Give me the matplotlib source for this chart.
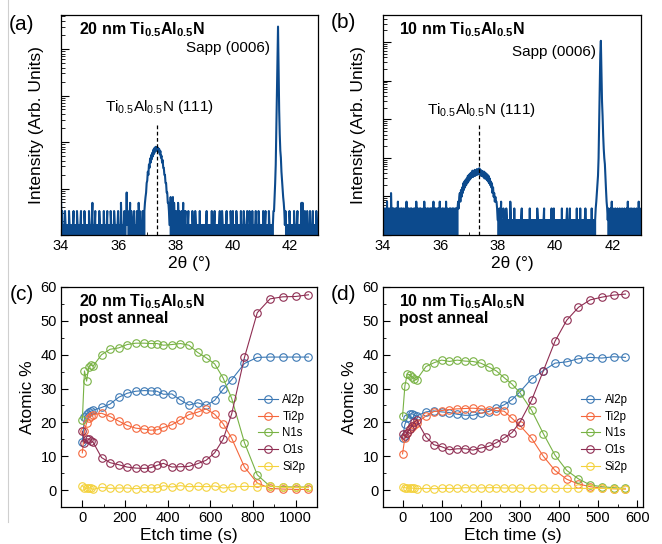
import numpy as np
import matplotlib
matplotlib.use('Agg')
import matplotlib.pyplot as plt
from matplotlib.ticker import FixedLocator, MultipleLocator, NullFormatter
from matplotlib.lines import Line2D

plt.rcParams['font.family'] = ['Liberation Sans', 'DejaVu Sans']
plt.rcParams['mathtext.fontset'] = 'custom'
plt.rcParams['mathtext.rm'] = 'Liberation Sans'
plt.rcParams['mathtext.it'] = 'Liberation Sans:italic'
plt.rcParams['mathtext.bf'] = 'Liberation Sans:bold'

# ---------------- XRD data (counts on a 0.02 deg grid) ----------------
STEP = 0.02
xrd_a_segments = [
    (34.00, "4120101210" "1010210110" "0120101021" "0101120101" "0210110102"
            "1010130101" "2010110210" "1011020101" "1201010211" "0102101101"
            "2101031010" "1201151210" "1302101120" "1012103121" "011210"),
    (36.92, [2, 3, 4, 5, 8, 9, 14, 12, 20, 17, 27, 22, 32, 26, 36, 30, 42, 34, 46, 38,
             48, 40, 47, 41, 46, 38, 43, 33, 39, 28, 31, 22, 25, 17, 17, 12, 12, 8, 8, 5,
             5, 3, 3, 2, 1]),
    (37.82, "1402140312" "0120312101" "2013021201" "0120101102" "1010210101"
            "1020101101" "0101201010" "1102010120" "1010101201" "0210101012"
            "0101102101" "2010102101" "0110201012" "1010120102" "1010201101"
            "2101021010" "1102101201" "0102101010"),
    (41.42, [1, 2, 2, 4, 8, 20, 120, 900, 6000, 18500, 2000, 300, 90, 40, 28, 14, 9, 6,
             4, 3, 2, 1, 2, 1, 0]),
    (41.92, "1010210101" "1021010120" "1010130310" "1201020101" "2010120101" "02101"),
]
xrd_b_segments = [
    (34.00, "2021020302" "1020510202" "0120203021" "0202102012" "0302020120"
            "2010202031" "0201202010" "2030201202" "0120202130" "2020120203"
            "0102020120" "3020102021" "0202012020"),
    (36.60, [2, 3, 2, 4, 5, 3, 6, 4, 7, 5, 9, 6, 10, 7, 11, 8, 12, 9, 14, 10,
             15, 11, 16, 12, 17, 13, 19, 13, 18, 14, 20, 14, 19, 15, 21, 15, 20, 16, 22, 15,
             20, 14, 19, 14, 18, 13, 18, 12, 17, 12, 16, 11, 15, 10, 14, 9, 12, 8, 10, 7,
             9, 5, 7, 4, 5, 3, 4, 3, 3, 2, 1]),
    (38.02, "1020130102" "1010210101" "0310101020" "1010101010" "1201010101"
            "0101020101" "1010101021" "0101010101" "2010101010" "1012010201"
            "0101010101" "0201010101" "2010120101" "0101010201" "0102010101"
            "0121010101" "0102010101"),
    (41.42, [2, 3, 5, 8, 14, 40, 300, 3000, 20000, 44000, 6000, 1200, 500, 160, 70, 40,
             28, 12, 6, 3, 2, 1, 2]),
    (41.88, "0102030201" "0201020102" "0102010201" "0203010201" "2010201020" "1030201"),
]
xrd_peak_2theta = 37.35

# ---------------- XPS depth profiles ----------------
c_time = [0, 10, 20, 30, 40, 50, 90, 130, 170, 210, 250, 290, 320, 350, 380, 420, 460,
          500, 540, 580, 620, 660, 700, 760, 820, 880, 940, 1000, 1060]
c_al2p = [14.3, 21.5, 22.5, 23.0, 23.3, 23.6, 24.4, 25.4, 27.4, 28.6, 29.2, 29.4, 29.3, 29.2,
          28.3, 28.4, 26.6, 25.1, 25.8, 25.0, 26.5, 29.8, 32.6, 37.4, 39.2, 39.3, 39.3, 39.3, 39.3]
c_ti2p = [11.0, 17.5, 19.8, 21.3, 22.0, 22.3, 22.7, 21.7, 20.4, 19.1, 18.3, 18.0, 17.7, 17.8,
          18.5, 19.3, 20.8, 22.3, 23.0, 24.0, 22.4, 19.6, 15.3, 6.8, 2.1, 0.5, 0.3, 0.2, 0.2]
c_n1s = [20.6, 35.2, 32.2, 36.4, 37.0, 36.6, 40.0, 41.6, 42.0, 43.0, 43.4, 43.4, 43.3, 43.3,
         42.8, 43.0, 43.3, 42.8, 40.7, 39.1, 37.3, 33.1, 27.1, 14.0, 4.5, 1.1, 1.0, 0.9, 0.9]
c_o1s = [17.4, 13.8, 15.2, 15.0, 14.6, 14.2, 9.6, 8.1, 7.5, 6.8, 6.5, 6.4, 6.6, 7.3,
         7.9, 6.8, 6.9, 7.0, 7.8, 8.8, 11.0, 15.0, 22.5, 39.2, 52.4, 56.5, 57.1, 57.2, 57.7]
c_si2p = [1.3, 0.6, 0.5, 0.7, 0.6, 0.2, 0.8, 0.5, 0.6, 0.6, 0.4, 0.7, 0.6, 0.6,
          1.3, 0.9, 1.3, 1.0, 1.1, 1.0, 1.2, 0.6, 0.9, 1.1, 1.0, 1.2, 0.8, 0.8, 0.8]

d_time = [0, 6, 12, 18, 24, 30, 36, 60, 80, 100, 120, 140, 160, 180, 200, 220, 240, 260,
          280, 300, 330, 360, 390, 420, 450, 480, 510, 540, 570]
d_al2p = [15.5, 19.4, 21.2, 22.4, 22.6, 22.1, 21.9, 23.1, 23.4, 23.1, 22.9, 22.4, 22.1, 22.1,
          22.7, 23.2, 24.2, 25.2, 26.7, 29.0, 32.9, 35.3, 37.5, 37.9, 38.8, 39.2, 39.0, 39.4, 39.2]
d_ti2p = [10.7, 15.5, 17.0, 18.0, 18.6, 19.2, 19.9, 21.9, 23.2, 23.5, 23.8, 24.0, 24.1, 24.2,
          24.0, 23.8, 23.5, 23.3, 21.2, 19.1, 15.3, 10.0, 5.8, 3.2, 1.8, 1.0, 0.6, 0.4, 0.3]
d_n1s = [21.8, 30.8, 34.3, 34.1, 33.5, 32.9, 32.6, 36.5, 37.6, 38.4, 38.0, 38.4, 38.1, 38.0,
         37.5, 36.4, 35.2, 33.2, 31.3, 28.8, 23.6, 16.7, 10.3, 5.8, 3.3, 1.5, 1.0, 0.7, 0.5]
d_o1s = [16.5, 16.0, 17.0, 18.0, 19.0, 20.0, 20.6, 15.7, 13.4, 12.8, 11.9, 12.2, 12.2, 11.8,
         12.4, 12.9, 14.0, 15.4, 17.0, 20.0, 26.5, 35.2, 44.0, 50.2, 54.0, 56.2, 57.0, 57.6, 57.9]
d_si2p = [0.9, 0.7, 0.6, 0.6, 0.6, 0.5, 0.4, 0.5, 0.4, 0.5, 0.5, 0.5, 0.7, 0.6,
          0.6, 0.7, 0.7, 0.6, 0.6, 0.6, 0.5, 0.6, 0.5, 0.5, 0.5, 0.5, 0.5, 0.4, 0.4]

series_names = ['Al2p', 'Ti2p', 'N1s', 'O1s', 'Si2p']
series_colors = ['#3b78b4', '#f5673c', '#78b244', '#8f2d52', '#f4d23c']


def build(segments):
    xs, ys = [], []
    for start, vals in segments:
        if isinstance(vals, str):
            vals = [int(c) for c in vals]
        xs.extend(start + STEP * np.arange(len(vals)))
        ys.extend(vals)
    return np.array(xs), np.array(ys, dtype=float)


W, H = 662, 544
fig = plt.figure(figsize=(W / 100, H / 100), dpi=100)


def rect(l, t, r, b):
    return [l / W, 1 - b / H, (r - l) / W, (b - t) / H]


ax_a = fig.add_axes(rect(61, 15, 318, 235))
ax_b = fig.add_axes(rect(383, 15, 641, 235))
ax_c = fig.add_axes(rect(61, 287, 317, 507))
ax_d = fig.add_axes(rect(383, 287, 643, 507))

fig.add_artist(Line2D([8 / W, 8 / W], [1 - 522 / H, 1], color='#cfcfcf', lw=0.8))

TFS = 10.5
LFS = 12.5
title_sub = r'nm Ti$_{\mathbf{0.5}}$Al$_{\mathbf{0.5}}$N'
ti_label = r'Ti$_{0.5}$Al$_{0.5}$N (111)'


def style_xrd(ax, segs, base, decade_px, thick, sapp_pos, ti_pos, title_x):
    x, y = build(segs)
    ax.plot(x, y, color='#0c4a8d', lw=1.5)
    ax.set_yscale('log')
    top = base * 10 ** (220 / decade_px)
    ax.set_ylim(base, top)
    ax.set_xlim(34, 43)
    ax.yaxis.set_major_locator(FixedLocator([base * 10 ** n for n in range(0, 7)]))
    ax.yaxis.set_minor_locator(FixedLocator([base * m * 10 ** n for n in range(-1, 7) for m in range(2, 10)]))
    ax.yaxis.set_major_formatter(NullFormatter())
    ax.yaxis.set_minor_formatter(NullFormatter())
    ax.xaxis.set_major_locator(MultipleLocator(2))
    ax.xaxis.set_minor_locator(MultipleLocator(1))
    ax.tick_params(which='both', direction='in', top=False, right=False, labelsize=TFS)
    ax.tick_params(axis='y', which='major', length=6, width=0.8)
    ax.tick_params(axis='y', which='minor', length=3, width=0.6)
    ax.tick_params(axis='x', which='major', length=4, width=0.8, pad=3)
    ax.tick_params(axis='x', which='minor', length=2.5, width=0.6)
    ax.set_xlabel('2θ (°)', fontsize=LFS, labelpad=2)
    ax.set_ylabel('Intensity (Arb. Units)', fontsize=LFS, labelpad=9)
    ax.axvline(xrd_peak_2theta, ymin=0, ymax=0.5, color='black', ls=(0, (3, 2)), lw=0.9)
    ax.text(title_x, 0.932, thick + ' ' + title_sub, transform=ax.transAxes, fontsize=11.5,
            fontweight='bold', va='center', ha='left')
    ax.text(sapp_pos[0], sapp_pos[1], 'Sapp (0006)', transform=ax.transAxes, fontsize=11,
            va='center', ha='right')
    ax.text(ti_pos[0], ti_pos[1], ti_label, transform=ax.transAxes, fontsize=11,
            va='center', ha='center')
    for s in ax.spines.values():
        s.set_linewidth(0.9)


style_xrd(ax_a, xrd_a_segments, 0.61, 46.5, '20', (0.813, 0.85), (0.385, 0.582), 0.07)
style_xrd(ax_b, xrd_b_segments, 0.41, 38.6, '10', (0.826, 0.832), (0.38, 0.568), 0.062)


def style_xps(ax, t, data, thick, xlim, xmaj, xmin, title_x, leg_x):
    for vals, name, col in zip(data, series_names, series_colors):
        ax.plot(t, vals, color=col, lw=0.8, marker='o', ms=5.4, mfc='none', mew=0.8,
                label=name)
    ax.set_xlim(*xlim)
    ax.set_ylim(-5, 60)
    ax.xaxis.set_major_locator(MultipleLocator(xmaj))
    ax.xaxis.set_minor_locator(MultipleLocator(xmin))
    ax.yaxis.set_major_locator(MultipleLocator(10))
    ax.yaxis.set_minor_locator(MultipleLocator(5))
    ax.tick_params(which='both', direction='in', top=False, right=False, labelsize=TFS)
    ax.tick_params(which='major', length=5, width=0.8, pad=3)
    ax.tick_params(which='minor', length=2.5, width=0.6)
    ax.set_xlabel('Etch time (s)', fontsize=LFS, labelpad=2)
    ax.set_ylabel('Atomic %', fontsize=LFS, labelpad=4)
    ax.text(title_x, 0.932, thick + ' ' + title_sub, transform=ax.transAxes, fontsize=11.5,
            fontweight='bold', va='center', ha='left')
    ax.text(title_x, 0.855, 'post anneal', transform=ax.transAxes, fontsize=11.5,
            fontweight='bold', va='center', ha='left')
    ax.legend(loc='upper left', bbox_to_anchor=(leg_x, 0.515), frameon=False, fontsize=8.3,
              handlelength=1.7, handletextpad=0.4, labelspacing=0.42, borderpad=0,
              borderaxespad=0)
    for s in ax.spines.values():
        s.set_linewidth(0.9)


style_xps(ax_c, c_time, [c_al2p, c_ti2p, c_n1s, c_o1s, c_si2p], '20', (-100, 1100), 200, 100,
          0.07, 0.77)
style_xps(ax_d, d_time, [d_al2p, d_ti2p, d_n1s, d_o1s, d_si2p], '10', (-50, 615), 100, 50,
          0.062, 0.76)

for lab, (px, py) in zip(['(a)', '(b)', '(c)', '(d)'],
                         [(22, 24), (343, 22), (22, 294), (343, 294)]):
    fig.text(px / W, 1 - py / H, lab, fontsize=15, ha='center', va='center')

fig.savefig('out.png', dpi=100)
